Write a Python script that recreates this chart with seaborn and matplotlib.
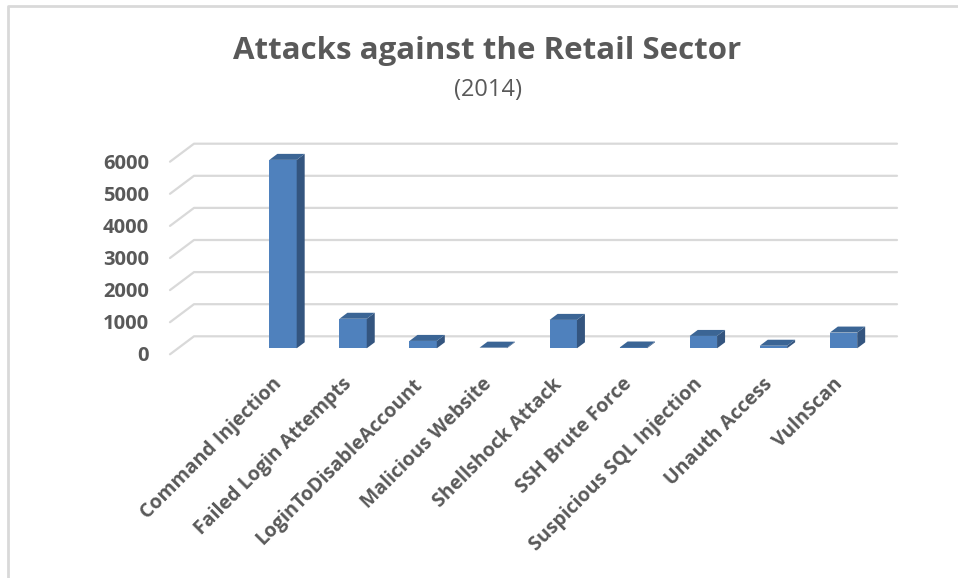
import matplotlib
matplotlib.use("Agg")
import matplotlib.pyplot as plt
import seaborn as sns
import pandas as pd
from matplotlib.patches import Polygon
from matplotlib.lines import Line2D
from matplotlib.transforms import IdentityTransform

# ---- data ----
categories = ["Command Injection", "Failed Login Attempts", "LoginToDisableAccount",
              "Malicious Website", "Shellshock Attack", "SSH Brute Force",
              "Suspicious SQL Injection", "Unauth Access", "VulnScan"]
attacks = [5870, 920, 230, 20, 885, 25, 385, 80, 490]
yticks = [0, 1000, 2000, 3000, 4000, 5000, 6000]
title = "Attacks against the Retail Sector"
subtitle = "(2014)"

df = pd.DataFrame({"category": categories, "attacks": attacks})

W, H = 958, 578
sns.set_style("white")
plt.rcParams['font.family'] = ['Open Sans', 'DejaVu Sans']
TXT = "#595959"
FRONT = "#4F81BD"
SIDE = "#34557F"
TOP = "#3B6595"
GRID = "#D9D9D9"

fig = plt.figure(figsize=(W / 100, H / 100), dpi=100)

# axes = plane of the bars' front faces (pixel coordinates from top-left)
left_px, right_px = 178, 881
y0_px, ytop_px = 348.3, 155.7
ax = fig.add_axes([left_px / W, (H - y0_px) / H, (right_px - left_px) / W, (y0_px - ytop_px) / H])
sns.barplot(data=df, x="category", y="attacks", color=FRONT, saturation=1,
            width=0.39, ax=ax, zorder=3, linewidth=0)
ax.set_xlim(-1.499, 8.535)
ax.set_ylim(0, 6000)
ax.axis("off")

# depth vector (display px): front plane -> back plane
DX, DY = 24.0, 18.0
fdx, fdy = -DX / 3, -DY / 3        # bar plane -> front plane
bdx, bdy = 2 * DX / 3, 2 * DY / 3  # bar plane -> back plane
ddx, ddy = DX / 3, DY / 3          # bar depth

fig.canvas.draw()
T = ax.transData
ident = IdentityTransform()
xl, xr = ax.get_xlim()

# gridlines (back wall + left diagonal)
for t in yticks:
    px, py = T.transform((xl, t))
    rx, _ = T.transform((xr, t))
    xs = [px + fdx, px + bdx, rx + bdx]
    ys = [py + fdy, py + bdy, py + bdy]
    ax.add_line(Line2D(xs, ys, transform=ident, color=GRID, lw=1.6, zorder=1, clip_on=False))
    fig.text(px + fdx - 21, py + fdy - 2, f"{t}", transform=ident, ha="right", va="center",
             fontsize=14.5, fontweight="bold", color=TXT)

# 3D faces of the bars
for p in ax.patches:
    x0 = p.get_x()
    w = p.get_width()
    h = p.get_height()
    (ax0, ay0) = T.transform((x0, 0))
    (ax1, ay1) = T.transform((x0 + w, h))
    top = [(ax0, ay1), (ax1, ay1), (ax1 + ddx, ay1 + ddy), (ax0 + ddx, ay1 + ddy)]
    side = [(ax1, ay0), (ax1 + ddx, ay0 + ddy), (ax1 + ddx, ay1 + ddy), (ax1, ay1)]
    ax.add_patch(Polygon(side, closed=True, transform=ident, facecolor=SIDE,
                         edgecolor="none", zorder=4, clip_on=False))
    ax.add_patch(Polygon(top, closed=True, transform=ident, facecolor=TOP,
                         edgecolor="none", zorder=4, clip_on=False))

# category labels, rotated 45°
for i, c in enumerate(categories):
    px, py = T.transform((i, 0))
    fig.text(px - 4, py - 33, c, transform=ident, rotation=45, rotation_mode="anchor",
             ha="right", va="center", fontsize=14, fontweight="bold", color=TXT)

# title / subtitle
cx = 487.5 / W
fig.text(cx, 1 - 51 / H, title, ha="center", va="center",
         fontsize=22.5, fontweight="bold", color=TXT)
fig.text(cx, 1 - 90 / H, subtitle, ha="center", va="center",
         fontsize=17, color=TXT)

# chart border
fig.add_artist(Line2D([8, 8, W + 5], [0, H - 6, H - 6], transform=ident, color=GRID, lw=2))

fig.savefig("out.png", dpi=100)
